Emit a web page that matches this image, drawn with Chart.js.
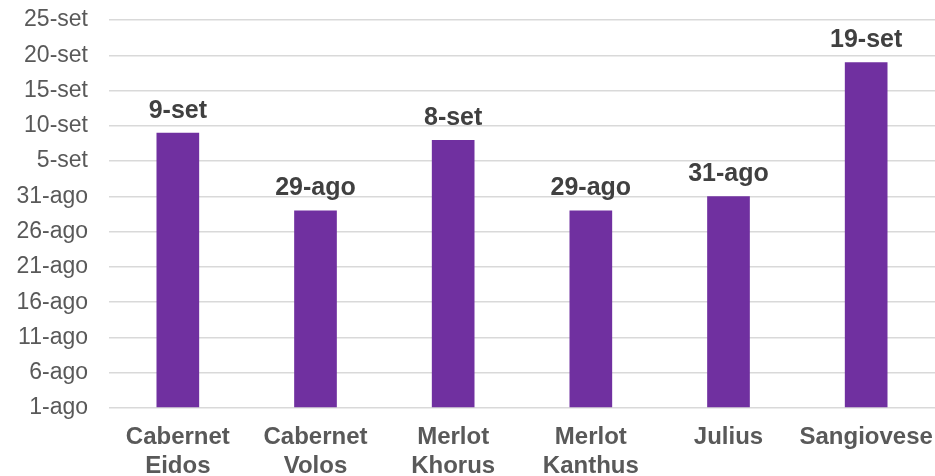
<!DOCTYPE html>
<html lang="it">
<head>
    <meta charset="UTF-8">
    <title>Date vendemmia</title>
    <script src="https://cdn.jsdelivr.net/npm/chart.js"></script>
    <style>
        body {
            margin: 0;
            padding: 0;
            background: #ffffff;
        }

        .chart-box {
            width: 935px;
            height: 476px;
        }
    </style>
</head>
<body>
    <div class="chart-box">
        <canvas id="barChart"></canvas>
    </div>

    <script>
        // varietà (etichette su due righe)
        const categories = [
            ['Cabernet', 'Eidos'],
            ['Cabernet', 'Volos'],
            ['Merlot', 'Khorus'],
            ['Merlot', 'Kanthus'],
            'Julius',
            'Sangiovese'
        ];
        // giorni dopo il 1 agosto
        const dayValues = [39, 28, 38, 28, 30, 49];
        const valueLabels = ['9-set', '29-ago', '8-set', '29-ago', '31-ago', '19-set'];
        const yTickLabels = ['1-ago', '6-ago', '11-ago', '16-ago', '21-ago', '26-ago',
            '31-ago', '5-set', '10-set', '15-set', '20-set', '25-set'];

        const FONT = "'Liberation Sans', Arial, sans-serif";

        // etichette dei valori sopra le barre
        const valueLabelPlugin = {
            id: 'valueLabels',
            afterDatasetsDraw(chart) {
                const ctx = chart.ctx;
                const meta = chart.getDatasetMeta(0);
                ctx.save();
                ctx.font = 'bold 25px ' + FONT;
                ctx.fillStyle = '#404040';
                ctx.textAlign = 'center';
                ctx.textBaseline = 'alphabetic';
                meta.data.forEach((bar, i) => {
                    ctx.fillText(valueLabels[i], bar.x, bar.y - 15);
                });
                ctx.restore();
            }
        };

        const ctx = document.getElementById('barChart').getContext('2d');
        new Chart(ctx, {
            type: 'bar',
            data: {
                labels: categories,
                datasets: [{
                    data: dayValues,
                    backgroundColor: '#7030A0',
                    barPercentage: 0.31,
                    categoryPercentage: 1
                }]
            },
            options: {
                responsive: true,
                maintainAspectRatio: false,
                animation: false,
                layout: {
                    padding: { top: 20, right: 0, bottom: 0, left: 0 }
                },
                plugins: {
                    legend: { display: false },
                    tooltip: { enabled: false }
                },
                scales: {
                    x: {
                        grid: { display: false, drawTicks: false },
                        border: { display: false },
                        ticks: {
                            color: '#595959',
                            font: { family: FONT, size: 24, weight: 'bold', lineHeight: 1.2 },
                            padding: 15,
                            maxRotation: 0,
                            autoSkip: false
                        },
                        afterFit(scale) {
                            scale.height = 68;
                            scale.paddingLeft = 0;
                            scale.paddingRight = 0;
                        }
                    },
                    y: {
                        min: 0,
                        max: 55,
                        grid: { color: '#d9d9d9', lineWidth: 1.5, drawTicks: false },
                        border: { display: false },
                        ticks: {
                            stepSize: 5,
                            color: '#595959',
                            font: { family: FONT, size: 23 },
                            padding: 21,
                            callback: (value, index) => yTickLabels[index]
                        },
                        afterFit(scale) {
                            scale.width = 109;
                            scale.paddingTop = 0;
                            scale.paddingBottom = 0;
                        }
                    }
                }
            },
            plugins: [valueLabelPlugin]
        });
    </script>
</body>
</html>
